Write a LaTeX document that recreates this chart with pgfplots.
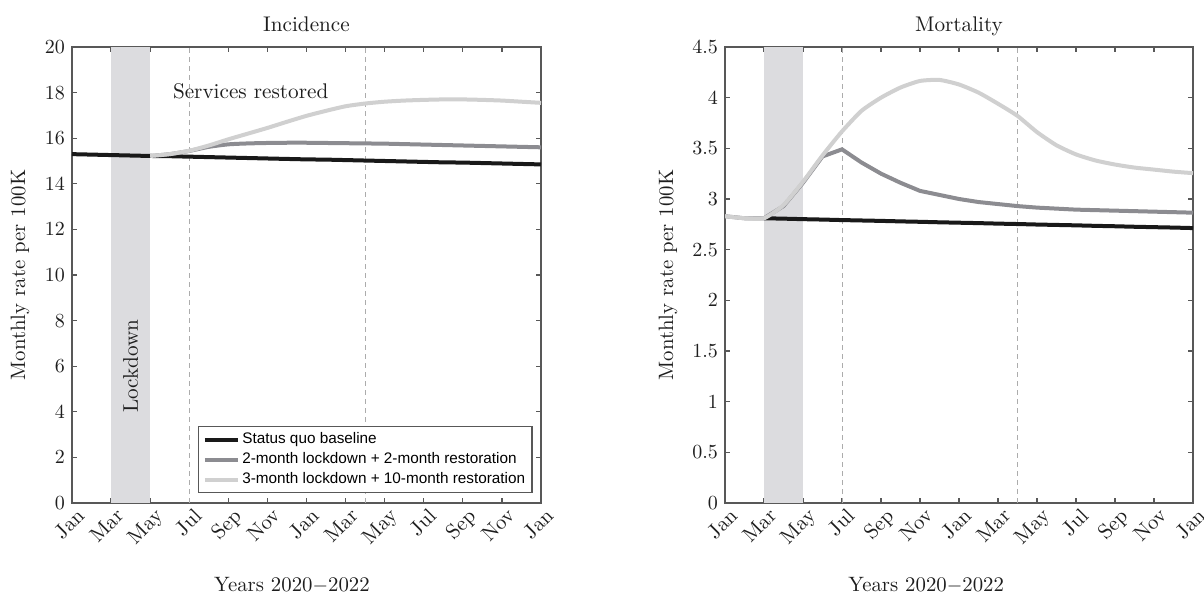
\documentclass[border=0pt]{standalone}
\usepackage{pgfplots}
\pgfplotsset{compat=1.18}
\usepackage{fontspec}
\newfontfamily\legfont{Liberation Sans}
\definecolor{axgray}{RGB}{88,88,88}
\definecolor{lockc}{RGB}{220,220,223}
\definecolor{blk}{RGB}{25,25,25}
\definecolor{midg}{RGB}{140,140,145}
\definecolor{ltg}{RGB}{208,208,208}
\definecolor{dashc}{RGB}{172,172,172}
\definecolor{txt}{RGB}{30,30,30}

\pgfplotstableread{
m v
0 15.30
1 15.28
2 15.26
3 15.24
4 15.22
5 15.21
6 15.19
7 15.17
8 15.15
9 15.13
10 15.11
11 15.09
12 15.07
13 15.06
14 15.04
15 15.02
16 15.00
17 14.98
18 14.96
19 14.94
20 14.93
21 14.91
22 14.89
23 14.87
24 14.85
}\incBase
\pgfplotstableread{
m v
4 15.22
5 15.30
6 15.44
7 15.62
8 15.73
9 15.77
10 15.79
11 15.80
12 15.80
13 15.79
14 15.78
15 15.77
16 15.76
17 15.74
18 15.72
19 15.70
20 15.68
21 15.66
22 15.64
23 15.62
24 15.60
}\incTwo
\pgfplotstableread{
m v
4 15.22
5 15.30
6 15.45
7 15.68
8 15.95
9 16.20
10 16.45
11 16.72
12 16.98
13 17.20
14 17.40
15 17.52
16 17.60
17 17.65
18 17.68
19 17.70
20 17.70
21 17.68
22 17.65
23 17.60
24 17.55
}\incThree
\pgfplotstableread{
m v
2 2.810
3 2.806
4 2.801
5 2.797
6 2.792
7 2.788
8 2.784
9 2.779
10 2.775
11 2.770
12 2.766
13 2.762
14 2.757
15 2.753
16 2.748
17 2.744
18 2.740
19 2.735
20 2.731
21 2.726
22 2.722
23 2.718
24 2.713
}\morBase
\pgfplotstableread{
m v
0 2.83
1 2.81
2 2.81
3 2.93
4 3.16
5 3.42
6 3.49
7 3.36
8 3.25
9 3.16
10 3.08
11 3.04
12 3.00
13 2.97
14 2.95
15 2.93
16 2.915
17 2.905
18 2.895
19 2.89
20 2.885
21 2.88
22 2.875
23 2.87
24 2.865
}\morTwo
\pgfplotstableread{
m v
0 2.83
1 2.81
2 2.81
3 2.94
4 3.17
5 3.43
6 3.667
7 3.87
8 4.00
9 4.10
10 4.165
11 4.175
12 4.13
13 4.05
14 3.94
15 3.82
16 3.66
17 3.53
18 3.44
19 3.38
20 3.34
21 3.31
22 3.29
23 3.27
24 3.255
}\morThree

\pgfplotsset{
 myax/.style={
  scale only axis, width=234.5pt, height=228pt,
  anchor=south west,
  xmin=0, xmax=24,
  xtick={0,2,...,24},
  xticklabels={Jan,Mar,May,Jul,Sep,Nov,Jan,Mar,May,Jul,Sep,Nov,Jan},
  x tick label style={rotate=45, anchor=north east, inner sep=1pt, yshift=-1.5pt, xshift=1pt},
  tick align=inside, tick pos=both,
  major tick length=2.5pt,
  axis line style={axgray, line width=1pt},
  tick style={axgray, line width=0.6pt},
  tick label style={font=\fontsize{10.4}{12}\selectfont, text=txt},
  label style={font=\fontsize{10.4}{12}\selectfont, text=txt},
  title style={font=\fontsize{10.6}{12}\selectfont, text=txt, at={(0.5,1)}, anchor=base, yshift=1.5pt},
  xlabel={Years 2020$-$2022},
  ylabel={Monthly rate per 100K},
  clip=true,
 },
 lockfill/.style={fill=lockc, draw=none, forget plot},
 dashl/.style={dashc, line width=0.5pt, dash pattern=on 2.5pt off 2pt, forget plot},
 sblk/.style={blk, line width=2pt},
 smid/.style={midg, line width=2pt},
 slt/.style={ltg, line width=2pt},
}

\begin{document}
\begin{tikzpicture}
\path[use as bounding box] (0,0) rectangle (602pt,299pt);

\begin{axis}[myax, at={(36pt,47.5pt)},
  ymin=0, ymax=20, ytick={0,2,...,20},
  title={Incidence},
  xlabel style={at={(axis description cs:0.469,-0.18)}, anchor=center},
  ylabel style={at={(axis description cs:-0.111,0.5)}, anchor=center},
  legend style={at={(0.982,0.021)}, anchor=south east, draw=axgray, line width=0.6pt,
    fill=white, font=\legfont\fontsize{7.65}{10}\selectfont,
    inner xsep=2.2pt, inner ysep=1.5pt, row sep=0pt,
    nodes={inner sep=1.2pt, text height=5.8pt, text depth=1.8pt, anchor=west}},
  legend cell align=left,
  legend image code/.code={\draw[#1] (0pt,0pt) -- (16.5pt,0pt);},
]
\addplot[lockfill] coordinates {(2,20) (4,20)} \closedcycle;
\addplot[dashl] coordinates {(6,0) (6,20)};
\addplot[dashl] coordinates {(15,0) (15,20)};
\addplot[sblk] table[x=m,y=v] {\incBase};
\addlegendentry{Status quo baseline}
\addplot[smid, smooth, tension=0.4] table[x=m,y=v] {\incTwo};
\addlegendentry{2-month lockdown + 2-month restoration}
\addplot[slt, smooth, tension=0.4] table[x=m,y=v] {\incThree};
\addlegendentry{3-month lockdown + 10-month restoration}
\node[anchor=west, inner sep=0pt, font=\fontsize{10.6}{12}\selectfont, text=txt] at (axis cs:5.15,18.07) {Services restored};
\node[rotate=90, font=\fontsize{10.6}{12}\selectfont, text=txt] at (axis cs:3,6.0) {Lockdown};
\end{axis}

\begin{axis}[myax, at={(362.5pt,47.5pt)}, width=234pt,
  ymin=0, ymax=4.5, ytick={0,0.5,...,4.5},
  title={Mortality},
  xlabel style={at={(axis description cs:0.43,-0.18)}, anchor=center},
  ylabel style={at={(axis description cs:-0.122,0.5)}, anchor=center},
]
\addplot[lockfill] coordinates {(2,4.5) (4,4.5)} \closedcycle;
\addplot[dashl] coordinates {(6,0) (6,4.5)};
\addplot[dashl] coordinates {(15,0) (15,4.5)};
\addplot[sblk] table[x=m,y=v] {\morBase};
\addplot[smid] table[x=m,y=v] {\morTwo};
\addplot[slt, smooth, tension=0.35] table[x=m,y=v] {\morThree};
\end{axis}
\end{tikzpicture}
\end{document}
